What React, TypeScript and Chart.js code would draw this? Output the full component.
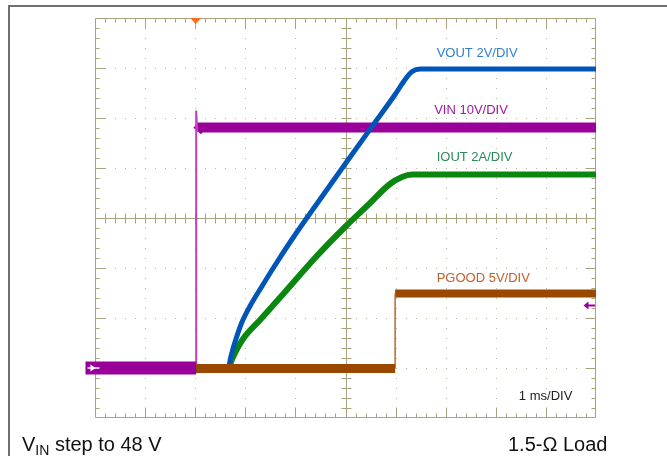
import { useEffect, useRef } from "react";
import { Chart, registerables } from "chart.js";

Chart.register(...registerables);

// Time in ms from the left edge of the screen (1 ms/DIV); levels in screen divisions (0 = bottom edge, 8 = top edge).
const voutT = [0, 2.67, 2.7, 2.75, 2.83, 2.93, 3.09, 3.33, 3.59, 3.93, 4.49, 5.0, 5.53, 5.99, 6.19, 6.33, 6.49, 10];
const voutDiv = [0.95, 0.98, 1.17, 1.37, 1.63, 1.91, 2.23, 2.63, 3.05, 3.57, 4.37, 5.09, 5.83, 6.47, 6.77, 6.93, 6.98, 6.98];

const ioutT = [0, 2.675, 2.705, 2.794, 2.954, 3.293, 3.792, 4.391, 4.99, 5.429, 5.888, 6.128, 6.327, 10];
const ioutDiv = [0.95, 0.98, 1.1, 1.3, 1.58, 1.96, 2.52, 3.2, 3.82, 4.24, 4.68, 4.82, 4.87, 4.87];

const vinPreT = [-0.19, 2.02];
const vinPreDiv = [1.0, 1.0];
const vinStepT = [2.02, 2.02, 2.04];
const vinStepDiv = [1.0, 6.15, 5.72];
const vinPostT = [2.04, 2.1, 10];
const vinPostDiv = [5.74, 5.81, 5.81];

const pgPreT = [2.02, 5.99];
const pgPreDiv = [0.99, 0.99];
const pgStepT = [5.99, 5.99];
const pgStepDiv = [0.99, 2.49];
const pgPostT = [5.99, 10];
const pgPostDiv = [2.49, 2.49];

const channelLabels = ["VOUT 2V/DIV", "VIN 10V/DIV", "IOUT 2A/DIV", "PGOOD 5V/DIV", "1 ms/DIV"];
const labelT = [6.82, 6.77, 6.82, 6.82, 8.46];
const labelDiv = [7.23, 6.09, 5.15, 2.73, 0.37];
const labelColors = ["#2f7fd0", "#a0169f", "#2a8a5a", "#c0602a", "#222222"];

const triggerT = 2;
const refMarkerDiv = 2.26;

const pts = (t: number[], v: number[]) => t.map((x, i) => ({ x, y: v[i] }));

const PURPLE = "#990099";
const BLUE = "#0056b8";
const GREEN = "#0a870f";
const BROWN = "#9a4800";
const OLIVE = "#a8a27f";
const DOT = "#bdb89f";

const scopePlugin = {
  id: "scope",
  beforeDatasetsDraw(chart: any) {
    const { ctx, chartArea: a, scales } = chart;
    const xs = scales.x;
    const ys = scales.y;
    ctx.save();
    // dotted graticule
    ctx.fillStyle = DOT;
    for (let i = 1; i < 10; i++) {
      if (i === 5) continue;
      const px = Math.round(xs.getPixelForValue(i));
      for (let k = 1; k < 40; k++) {
        const py = Math.round(ys.getPixelForValue(k * 0.2));
        ctx.fillRect(px, py, 1, 1);
      }
    }
    for (let j = 1; j < 8; j++) {
      if (j === 4) continue;
      const py = Math.round(ys.getPixelForValue(j));
      for (let k = 1; k < 50; k++) {
        const px = Math.round(xs.getPixelForValue(k * 0.2));
        ctx.fillRect(px, py, 1, 1);
      }
    }
    ctx.strokeStyle = OLIVE;
    ctx.lineWidth = 1;
    // center cross
    const cx = Math.round(xs.getPixelForValue(5)) + 0.5;
    const cy = Math.round(ys.getPixelForValue(4)) + 0.5;
    ctx.beginPath();
    ctx.moveTo(cx, a.top);
    ctx.lineTo(cx, a.bottom);
    ctx.moveTo(a.left, cy);
    ctx.lineTo(a.right, cy);
    for (let k = 1; k < 40; k++) {
      const py = Math.round(ys.getPixelForValue(k * 0.2)) + 0.5;
      ctx.moveTo(cx - 5, py);
      ctx.lineTo(cx + 5, py);
    }
    for (let k = 1; k < 50; k++) {
      const px = Math.round(xs.getPixelForValue(k * 0.2)) + 0.5;
      ctx.moveTo(px, cy - 5);
      ctx.lineTo(px, cy + 5);
    }
    // border
    const L = Math.round(a.left) + 0.5;
    const R = Math.round(a.right) - 0.5;
    const T = Math.round(a.top) + 0.5;
    const B = Math.round(a.bottom) - 0.5;
    ctx.moveTo(L, T);
    ctx.lineTo(R, T);
    ctx.lineTo(R, B);
    ctx.lineTo(L, B);
    ctx.closePath();
    for (let k = 1; k < 50; k++) {
      const px = Math.round(xs.getPixelForValue(k * 0.2)) + 0.5;
      const len = k % 5 === 0 ? 10 : 4;
      ctx.moveTo(px, T);
      ctx.lineTo(px, T + len);
      ctx.moveTo(px, B);
      ctx.lineTo(px, B - len);
    }
    for (let k = 1; k < 40; k++) {
      const py = Math.round(ys.getPixelForValue(k * 0.2)) + 0.5;
      const len = k % 5 === 0 ? 10 : 4;
      ctx.moveTo(L, py);
      ctx.lineTo(L + len, py);
      ctx.moveTo(R, py);
      ctx.lineTo(R - len, py);
    }
    ctx.stroke();
    ctx.restore();
  },
  afterDatasetsDraw(chart: any) {
    const { ctx, chartArea: a, scales } = chart;
    const xs = scales.x;
    const ys = scales.y;
    ctx.save();
    // trigger marker
    const tx = xs.getPixelForValue(triggerT) + 0.5;
    ctx.fillStyle = "#ff6a1a";
    ctx.beginPath();
    ctx.moveTo(tx - 5.5, a.top);
    ctx.lineTo(tx + 5.5, a.top);
    ctx.lineTo(tx, a.top + 6);
    ctx.closePath();
    ctx.fill();
    // right reference marker
    const ry = Math.round(ys.getPixelForValue(refMarkerDiv)) + 0.5;
    const rx0 = xs.getPixelForValue(9.98);
    const rx1 = xs.getPixelForValue(9.75);
    ctx.strokeStyle = PURPLE;
    ctx.fillStyle = PURPLE;
    ctx.lineWidth = 2;
    ctx.beginPath();
    ctx.moveTo(rx0, ry);
    ctx.lineTo(rx1 + 3, ry);
    ctx.stroke();
    ctx.beginPath();
    ctx.moveTo(rx1, ry);
    ctx.lineTo(rx1 + 5, ry - 4);
    ctx.lineTo(rx1 + 5, ry + 4);
    ctx.closePath();
    ctx.fill();
    // left ground marker arrow (white on the VIN band)
    const gy = ys.getPixelForValue(vinPreDiv[0]);
    const gx = xs.getPixelForValue(vinPreT[0]);
    ctx.strokeStyle = "#ffffff";
    ctx.fillStyle = "#ffffff";
    ctx.lineWidth = 1.5;
    ctx.beginPath();
    ctx.moveTo(gx + 2, gy);
    ctx.lineTo(gx + 14, gy);
    ctx.stroke();
    ctx.beginPath();
    ctx.moveTo(gx + 10, gy);
    ctx.lineTo(gx + 5, gy - 3.5);
    ctx.lineTo(gx + 5, gy + 3.5);
    ctx.closePath();
    ctx.fill();
    // channel labels
    ctx.font = '13px "Liberation Sans", Arial, sans-serif';
    ctx.textBaseline = "alphabetic";
    ctx.textAlign = "left";
    channelLabels.forEach((s, i) => {
      ctx.fillStyle = labelColors[i];
      ctx.fillText(s, xs.getPixelForValue(labelT[i]), ys.getPixelForValue(labelDiv[i]));
    });
    ctx.restore();
  },
};

export default function App() {
  const ref = useRef<HTMLCanvasElement | null>(null);
  useEffect(() => {
    if (!ref.current) return;
    const band = (data: any, color: string, width: number, order: number, extra: any = {}) => ({
      data,
      borderColor: color,
      backgroundColor: color,
      borderWidth: width,
      pointRadius: 0,
      fill: false,
      order,
      ...extra,
    });
    const chart = new Chart(ref.current, {
      type: "line",
      data: {
        datasets: [
          band(pts(pgPreT, pgPreDiv), BROWN, 9, 1),
          band(pts(pgStepT, pgStepDiv), "#b86a2a", 1.5, 1),
          band(pts(pgPostT, pgPostDiv), BROWN, 8, 1),
          band(pts(vinPreT, vinPreDiv), PURPLE, 13, 2, { clip: false }),
          band(pts(voutT, voutDiv), BLUE, 5, 3, { cubicInterpolationMode: "monotone", borderJoinStyle: "round" }),
          band(pts(ioutT, ioutDiv), GREEN, 6, 4, { cubicInterpolationMode: "monotone", borderJoinStyle: "round" }),
          band(pts(vinStepT, vinStepDiv), "#c040c0", 2, 5),
          band(pts(vinPostT, vinPostDiv), PURPLE, 10, 5),
        ],
      },
      options: {
        animation: false,
        responsive: false,
        events: [],
        layout: { padding: { left: 95, right: 71, top: 18, bottom: 38 } },
        scales: {
          x: { type: "linear", min: 0, max: 10, display: false },
          y: { type: "linear", min: 0, max: 8, display: false },
        },
        plugins: { legend: { display: false }, tooltip: { enabled: false } },
      },
      plugins: [scopePlugin],
    });
    return () => chart.destroy();
  }, []);

  const font = '"Liberation Sans", Arial, sans-serif';
  return (
    <div style={{ position: "fixed", left: 0, top: 0, width: 667, height: 456, background: "#fff", overflow: "hidden", fontFamily: font }}>
      <div style={{ position: "absolute", left: 8, top: 5, width: 659, height: 2, background: "#6f6f6f" }} />
      <div style={{ position: "absolute", left: 8, top: 5, width: 2, height: 451, background: "#6f6f6f" }} />
      <canvas ref={ref} width={667} height={456} style={{ position: "absolute", left: 0, top: 0 }} />
      <div style={{ position: "absolute", left: 22, top: 434, fontSize: 20, lineHeight: "20px", color: "#111", whiteSpace: "nowrap" }}>
        V<span style={{ fontSize: 14, position: "relative", top: 4 }}>IN</span> step to 48 V
      </div>
      <div style={{ position: "absolute", left: 508, top: 434, fontSize: 20, lineHeight: "20px", color: "#111", whiteSpace: "nowrap" }}>
        1.5-Ω Load
      </div>
    </div>
  );
}
